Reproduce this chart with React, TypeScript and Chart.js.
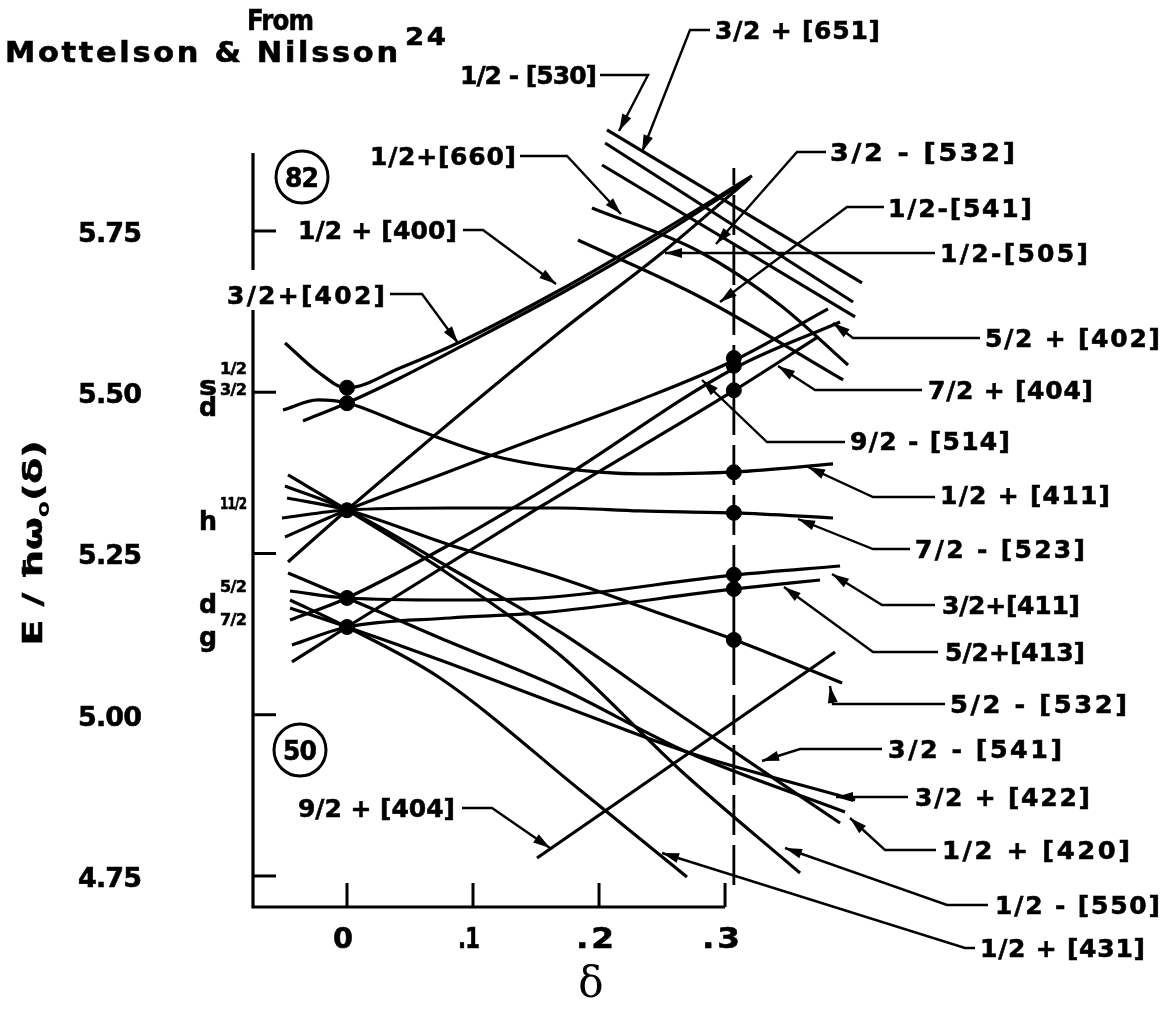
import { useEffect, useRef } from "react";
import { Chart, registerables } from "chart.js";

Chart.register(...registerables);

// ---------- axis ticks ----------
const DELTA_TICKS = [0, 0.1, 0.2, 0.3];
const DELTA_TICK_LABELS = ["0", ".1", ".2", ".3"];
const ENERGY_TICKS = [5.75, 5.5, 5.25, 5.0, 4.75];
const ENERGY_TICK_LABELS = ["5.75", "5.50", "5.25", "5.00", "4.75"];
const DELTA_AXIS_END = 0.3;

// ---------- Nilsson levels: deformation δ and energy E/ħω0 ----------
const o400_d = [-0.0492, -0.023, 0, 0.0421, 0.0897, 0.169, 0.2484, 0.3214];
const o400_E = [5.5764, 5.5314, 5.5066, 5.5376, 5.5779, 5.6585, 5.7484, 5.8353];
const o402_d = [-0.0349, 0, 0.0421, 0.0897, 0.169, 0.2484, 0.3167];
const o402_E = [5.4554, 5.4833, 5.5221, 5.5702, 5.6523, 5.7422, 5.8275];
const o411a_d = [-0.0508, -0.023, 0, 0.05, 0.1135, 0.169, 0.2325, 0.3079, 0.3857];
const o411a_E = [5.4725, 5.488, 5.4833, 5.4461, 5.4027, 5.3826, 5.3733, 5.3764, 5.3888];
const o505_d = [-0.0468, 0, 0.169, 0.2508, 0.3198];
const o505_E = [5.2368, 5.3174, 5.5934, 5.7174, 5.8322];
const o514_d = [-0.0492, 0, 0.0738, 0.1532, 0.2325, 0.3079, 0.3817];
const o514_E = [5.2756, 5.3174, 5.3717, 5.4306, 5.488, 5.55, 5.6291];
const o523_d = [-0.0516, 0, 0.0817, 0.169, 0.2325, 0.3079, 0.3857];
const o523_E = [5.305, 5.3174, 5.3205, 5.3205, 5.3159, 5.3128, 5.305];
const o532_d = [-0.0476, 0, 0.0817, 0.169, 0.2405, 0.3079, 0.3929];
const o532_E = [5.336, 5.3174, 5.2632, 5.212, 5.1624, 5.1159, 5.0493];
const o541_d = [-0.0492, 0, 0.0817, 0.169, 0.2643, 0.3913];
const o541_E = [5.3547, 5.3174, 5.2275, 5.1283, 4.9996, 4.8322];
const o550_d = [-0.0468, 0, 0.0817, 0.169, 0.2643, 0.3595];
const o550_E = [5.3717, 5.3174, 5.2167, 5.0926, 4.9143, 4.7546];
const o420_d = [-0.0468, 0, 0.0738, 0.169, 0.2698, 0.3952];
const o420_E = [5.2198, 5.181, 5.119, 5.0415, 4.9422, 4.8492];
const o411b_d = [-0.0452, 0, 0.0817, 0.1532, 0.3079, 0.3913];
const o411b_E = [5.1918, 5.181, 5.1779, 5.181, 5.2167, 5.2306];
const o402b_d = [-0.0452, 0, 0.1532, 0.3079, 0.3913];
const o402b_E = [5.1469, 5.181, 5.3453, 5.5376, 5.6089];
const o431_d = [-0.0452, 0, 0.0738, 0.1849, 0.2698];
const o431_E = [5.1779, 5.136, 5.057, 4.8833, 4.7484];
const o422_d = [-0.0452, 0, 0.0738, 0.169, 0.2698, 0.4032];
const o422_E = [5.1655, 5.136, 5.0849, 5.0151, 4.9422, 4.8678];
const o413_d = [-0.0437, 0, 0.0817, 0.1532, 0.3079, 0.3754];
const o413_E = [5.1081, 5.136, 5.15, 5.1578, 5.195, 5.2089];
const o404a_d = [-0.0437, 0, 0.1532, 0.3079, 0.3738];
const o404a_E = [5.0818, 5.136, 5.3221, 5.5035, 5.5857];
const o404b_d = [0.1508, 0.3873];
const o404b_E = [4.7779, 5.0973];
const o530_d = [0.2063, 0.4087];
const o530_E = [5.9066, 5.6694];
const o651_d = [0.2048, 0.4016];
const o651_E = [5.8864, 5.6399];
const o532b_d = [0.2024, 0.4032];
const o532b_E = [5.8523, 5.6167];
const o660_d = [0.1944, 0.2802, 0.3437, 0.3976];
const o660_E = [5.7857, 5.7174, 5.6353, 5.5422];
const o541b_d = [0.1833, 0.2802, 0.3937];
const o541b_E = [5.736, 5.6477, 5.519];

const LEVELS: [number[], number[]][] = [
  [o400_d, o400_E], [o402_d, o402_E], [o411a_d, o411a_E], [o505_d, o505_E],
  [o514_d, o514_E], [o523_d, o523_E], [o532_d, o532_E], [o541_d, o541_E],
  [o550_d, o550_E], [o420_d, o420_E], [o411b_d, o411b_E], [o402b_d, o402b_E],
  [o431_d, o431_E], [o422_d, o422_E], [o413_d, o413_E], [o404a_d, o404a_E],
  [o404b_d, o404b_E], [o530_d, o530_E], [o651_d, o651_E], [o532b_d, o532b_E],
  [o660_d, o660_E], [o541b_d, o541b_E],
];

// spherical levels (δ = 0) and equilibrium deformation levels
const SPHERICAL_DELTA = 0;
const SPHERICAL_E = [5.507, 5.483, 5.317, 5.181, 5.136];
const EQUILIBRIUM_DELTA = 0.307;
const EQUILIBRIUM_E = [5.553, 5.541, 5.503, 5.376, 5.313, 5.217, 5.195, 5.116];
const EQUILIBRIUM_LINE_E = [4.736, 5.8477];

// ---------- annotation layer (page layout, px) ----------
type Label = { t: string; x0: number; x1: number; y: number; s?: number };
const LABELS: Label[] = [
  { t: "From", x0: 247, x1: 314, y: 20, s: 28 },
  { t: "Mottelson & Nilsson", x0: 5, x1: 398, y: 52, s: 28 },
  { t: "24", x0: 405, x1: 446, y: 36, s: 25 },
  { t: "1/2 - [530]", x0: 460, x1: 597, y: 75 },
  { t: "3/2 + [651]", x0: 715, x1: 880, y: 30 },
  { t: "1/2+[660]", x0: 370, x1: 516, y: 156 },
  { t: "3/2 - [532]", x0: 830, x1: 1015, y: 152 },
  { t: "1/2-[541]", x0: 888, x1: 1032, y: 208 },
  { t: "1/2 + [400]", x0: 298, x1: 457, y: 230 },
  { t: "1/2-[505]", x0: 940, x1: 1088, y: 253 },
  { t: "3/2+[402]", x0: 227, x1: 385, y: 295 },
  { t: "5/2 + [402]", x0: 985, x1: 1160, y: 338 },
  { t: "7/2 + [404]", x0: 928, x1: 1093, y: 390 },
  { t: "9/2 - [514]", x0: 850, x1: 1010, y: 441 },
  { t: "1/2 + [411]", x0: 940, x1: 1110, y: 495 },
  { t: "7/2 - [523]", x0: 915, x1: 1085, y: 549 },
  { t: "3/2+[411]", x0: 942, x1: 1080, y: 605 },
  { t: "5/2+[413]", x0: 945, x1: 1085, y: 652 },
  { t: "5/2 - [532]", x0: 950, x1: 1127, y: 704 },
  { t: "3/2 - [541]", x0: 888, x1: 1062, y: 749 },
  { t: "3/2 + [422]", x0: 915, x1: 1090, y: 797 },
  { t: "1/2 + [420]", x0: 942, x1: 1130, y: 850 },
  { t: "1/2 - [550]", x0: 995, x1: 1160, y: 905 },
  { t: "1/2 + [431]", x0: 980, x1: 1145, y: 948 },
  { t: "9/2 + [404]", x0: 298, x1: 455, y: 808 },
];
const LEADERS: number[][][] = [
  [[600, 75], [648, 75], [619, 131]],
  [[710, 30], [690, 30], [642, 152]],
  [[520, 156], [567, 156], [621, 214]],
  [[826, 152], [797, 152], [716, 244]],
  [[884, 207], [847, 207], [720, 302]],
  [[935, 253], [665, 253]],
  [[463, 230], [483, 230], [556, 284]],
  [[390, 294], [422, 294], [458, 343]],
  [[980, 338], [853, 338], [833, 323]],
  [[922, 390], [815, 390], [778, 366]],
  [[845, 442], [767, 442], [702, 380]],
  [[935, 497], [873, 497], [808, 467]],
  [[910, 549], [873, 549], [798, 519]],
  [[935, 605], [882, 605], [832, 574]],
  [[938, 652], [873, 652], [784, 587]],
  [[945, 704], [833, 704], [830, 686]],
  [[882, 749], [800, 749], [762, 761]],
  [[908, 797], [836, 797]],
  [[936, 850], [885, 850], [850, 818]],
  [[988, 905], [947, 905], [785, 848]],
  [[975, 948], [965, 948], [662, 853]],
  [[462, 808], [492, 808], [550, 848]],
];
// spherical shell-model states
const SHELL_LABELS = [
  { main: "s", sup: "1/2", y: 385 },
  { main: "d", sup: "3/2", y: 406 },
  { main: "h", sup: "11/2", y: 520 },
  { main: "d", sup: "5/2", y: 603 },
  { main: "g", sup: "7/2", y: 636 },
];
const MAGIC = [
  { t: "82", x: 302, y: 177 },
  { t: "50", x: 300, y: 750 },
];

const FONT = '"DejaVu Sans"';

function fitText(ctx: CanvasRenderingContext2D, t: string, x0: number, x1: number, yc: number, size = 25) {
  const target = x1 - x0;
  ctx.save();
  ctx.font = `bold ${size}px ${FONT}`;
  (ctx as any).letterSpacing = "0px";
  const w0 = ctx.measureText(t).width;
  const n = t.length;
  let sp = n > 1 ? (target - w0) / (n - 1) : 0;
  sp = Math.max(-1, Math.min(2.5, sp));
  (ctx as any).letterSpacing = `${sp}px`;
  let w = ctx.measureText(t).width;
  const supported = Math.abs(w - w0) > 0.5 || Math.abs(sp) < 0.01;
  if (supported) w -= sp;
  ctx.translate(x0, yc + 0.365 * size);
  ctx.scale(target / w, 1);
  ctx.textAlign = "left";
  ctx.textBaseline = "alphabetic";
  ctx.lineWidth = 0.6;
  ctx.strokeStyle = "#000";
  ctx.fillText(t, 0, 0);
  ctx.strokeText(t, 0, 0);
  ctx.restore();
}

function arrowHead(ctx: CanvasRenderingContext2D, from: number[], to: number[]) {
  const ang = Math.atan2(to[1] - from[1], to[0] - from[0]);
  const L = 17, W = 5;
  ctx.beginPath();
  ctx.moveTo(to[0], to[1]);
  ctx.lineTo(to[0] - L * Math.cos(ang) + W * Math.sin(ang), to[1] - L * Math.sin(ang) - W * Math.cos(ang));
  ctx.lineTo(to[0] - L * Math.cos(ang) - W * Math.sin(ang), to[1] - L * Math.sin(ang) + W * Math.cos(ang));
  ctx.closePath();
  ctx.fill();
}

const decor = {
  id: "nilssonDecor",
  beforeDraw(chart: any) {
    const ctx = chart.ctx as CanvasRenderingContext2D;
    ctx.save();
    ctx.fillStyle = "#fff";
    ctx.fillRect(0, 0, chart.width, chart.height);
    ctx.restore();
  },
  afterDatasetsDraw(chart: any) {
    const ctx = chart.ctx as CanvasRenderingContext2D;
    const xs = chart.scales.x, ys = chart.scales.y;
    const { left, top, bottom } = chart.chartArea;
    const axisRight = xs.getPixelForValue(DELTA_AXIS_END);
    ctx.save();
    ctx.strokeStyle = "#000";
    ctx.fillStyle = "#000";
    ctx.lineCap = "butt";

    // axes
    ctx.lineWidth = 3.2;
    ctx.beginPath();
    ctx.moveTo(left, top);
    ctx.lineTo(left, 270);
    ctx.moveTo(left, 310);
    ctx.lineTo(left, bottom);
    ctx.lineTo(axisRight, bottom);
    ctx.stroke();

    // ticks (inward)
    ctx.lineWidth = 3;
    ENERGY_TICKS.forEach((v) => {
      const y = ys.getPixelForValue(v);
      ctx.beginPath();
      ctx.moveTo(left, y);
      ctx.lineTo(left + 23, y);
      ctx.stroke();
    });
    DELTA_TICKS.forEach((v) => {
      const x = xs.getPixelForValue(v);
      ctx.beginPath();
      ctx.moveTo(x, bottom);
      ctx.lineTo(x, bottom - 24);
      ctx.stroke();
    });

    // tick labels
    ENERGY_TICKS.forEach((v, i) => {
      const y = ys.getPixelForValue(v);
      fitText(ctx, ENERGY_TICK_LABELS[i], 78, 142, y + 1, 27);
    });
    const dW = [20, 22, 38, 38];
    DELTA_TICKS.forEach((v, i) => {
      const x = xs.getPixelForValue(v) - 4;
      fitText(ctx, DELTA_TICK_LABELS[i], x - dW[i] / 2, x + dW[i] / 2, 937, 29);
    });

    // axis titles
    ctx.font = `42px "DejaVu Serif"`;
    ctx.textAlign = "center";
    ctx.textBaseline = "middle";
    ctx.fillText("δ", 591, 986);

    ctx.save();
    ctx.translate(32, 543);
    ctx.rotate(-Math.PI / 2);
    ctx.textBaseline = "alphabetic";
    ctx.textAlign = "left";
    ctx.lineWidth = 0.6;
    const big = `bold 27px ${FONT}`, small = `bold 17px ${FONT}`;
    ctx.font = big;
    const p1 = "E / ħω", p3 = "(δ)";
    const w1 = ctx.measureText(p1).width, w3 = ctx.measureText(p3).width;
    ctx.font = small;
    const w2 = ctx.measureText("o").width;
    const total = w1 + w2 + w3;
    ctx.scale(205 / total, 1);
    let cx = -total / 2;
    ctx.font = big;
    ctx.fillText(p1, cx, 10);
    ctx.strokeText(p1, cx, 10);
    cx += w1;
    ctx.font = small;
    ctx.fillText("o", cx, 17);
    cx += w2;
    ctx.font = big;
    ctx.fillText(p3, cx, 10);
    ctx.strokeText(p3, cx, 10);
    ctx.restore();

    // shell labels
    SHELL_LABELS.forEach((s) => {
      fitText(ctx, s.main, 199, 217, s.y, 27);
      fitText(ctx, s.sup, 220, 247, s.y - 17, 16);
    });

    // magic numbers
    ctx.lineWidth = 3;
    MAGIC.forEach((m) => {
      ctx.beginPath();
      ctx.arc(m.x, m.y, 26, 0, Math.PI * 2);
      ctx.stroke();
      fitText(ctx, m.t, m.x - 17, m.x + 17, m.y, 27);
    });

    // labels
    LABELS.forEach((l) => fitText(ctx, l.t, l.x0, l.x1, l.y, l.s ?? 25));

    // leaders
    ctx.lineWidth = 2.4;
    ctx.lineJoin = "miter";
    LEADERS.forEach((pts) => {
      ctx.beginPath();
      ctx.moveTo(pts[0][0], pts[0][1]);
      for (let i = 1; i < pts.length; i++) ctx.lineTo(pts[i][0], pts[i][1]);
      ctx.stroke();
      arrowHead(ctx, pts[pts.length - 2], pts[pts.length - 1]);
    });
    ctx.restore();
  },
};

export default function App() {
  const ref = useRef<HTMLCanvasElement>(null);
  useEffect(() => {
    const canvas = ref.current;
    if (!canvas) return;
    const levelSets = LEVELS.map(([d, e]) => ({
      data: d.map((x, i) => ({ x, y: e[i] })),
      borderColor: "#000",
      borderWidth: 3.2,
      pointRadius: 0,
      fill: false,
      cubicInterpolationMode: "monotone" as const,
      clip: false as any,
    }));
    const chart = new Chart(canvas, {
      type: "line",
      data: {
        datasets: [
          ...levelSets,
          {
            data: EQUILIBRIUM_LINE_E.map((y) => ({ x: EQUILIBRIUM_DELTA, y })),
            borderColor: "#000",
            borderWidth: 2.8,
            borderDash: [40, 10],
            pointRadius: 0,
            clip: false as any,
          },
          {
            data: SPHERICAL_E.map((y) => ({ x: SPHERICAL_DELTA, y })),
            showLine: false,
            pointRadius: 7.5,
            pointBackgroundColor: "#000",
            pointBorderColor: "#000",
            clip: false as any,
          },
          {
            data: EQUILIBRIUM_E.map((y) => ({ x: EQUILIBRIUM_DELTA, y })),
            showLine: false,
            pointRadius: 7.5,
            pointBackgroundColor: "#000",
            pointBorderColor: "#000",
            clip: false as any,
          },
        ],
      },
      options: {
        responsive: false,
        animation: false,
        devicePixelRatio: 1,
        events: [],
        layout: { padding: { left: 253, top: 153, right: 292, bottom: 104 } },
        scales: {
          x: { type: "linear", display: false, min: -0.0746, max: 0.4206 },
          y: { type: "linear", display: false, min: 4.7019, max: 5.8709 },
        },
        plugins: { legend: { display: false }, tooltip: { enabled: false } },
      },
      plugins: [decor],
    });
    return () => chart.destroy();
  }, []);
  return (
    <div style={{ position: "fixed", left: 0, top: 0, width: 1169, height: 1011, background: "#fff" }}>
      <canvas ref={ref} width={1169} height={1011} style={{ display: "block" }} />
    </div>
  );
}
